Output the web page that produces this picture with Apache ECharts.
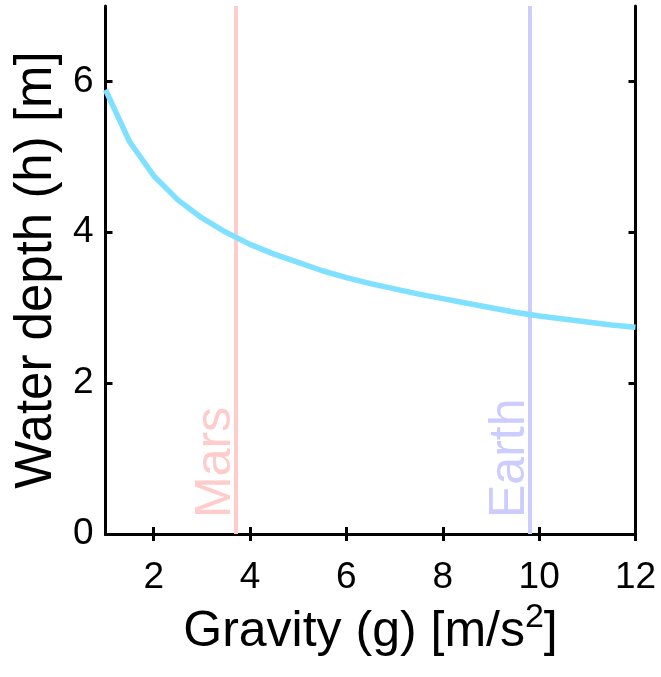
<!DOCTYPE html>
<html>
<head>
<meta charset="utf-8">
<script src="https://cdn.jsdelivr.net/npm/echarts@6/dist/echarts.min.js"></script>
<style>
html,body{margin:0;padding:0;background:#fff;}
#chart{width:661px;height:677px;}
</style>
</head>
<body>
<div id="chart"></div>
<script>
// Data
var gravity = [1, 1.5, 2, 2.5, 3, 3.5, 4, 4.5, 5, 5.5, 6, 6.5, 7, 7.5, 8, 8.5, 9, 9.5, 10, 10.5, 11, 11.5, 12];
var depth   = [5.89, 5.20, 4.75, 4.43, 4.19, 4.00, 3.84, 3.71, 3.60, 3.49, 3.40, 3.32, 3.25, 3.18, 3.12, 3.06, 3.00, 2.94, 2.89, 2.85, 2.81, 2.77, 2.74];
var planetNames = ['Mars', 'Earth'];
var planetGravity = [3.71, 9.81];
var xTicks = [2, 4, 6, 8, 10, 12];
var yTicks = [0, 2, 4, 6];
var xRange = [1, 12];
var yRange = [0, 7];

var planetColors = ['#ffcccc', '#ccccff'];
var FONT = '"Liberation Sans", Arial, Helvetica, sans-serif';

var curve = gravity.map(function (g, i) { return [g, depth[i]]; });

var chart = echarts.init(document.getElementById('chart'), null, {renderer: 'canvas'});

function tickStyle(vals) {
  return {show: true, inside: true, length: 7, customValues: vals, lineStyle: {color: '#000', width: 3}};
}
var axisLineStyle = {show: true, lineStyle: {color: '#000', width: 3}};

var option = {
  animation: false,
  backgroundColor: '#fff',
  grid: {left: 105.5, right: 25.5, top: 6, bottom: 143, containLabel: false, outerBoundsMode: 'none'},
  xAxis: [
    {
      type: 'value', position: 'bottom', min: xRange[0], max: xRange[1],
      axisLine: axisLineStyle, splitLine: {show: false},
      axisTick: tickStyle(xTicks),
      axisLabel: {show: true, customValues: xTicks, color: '#000', fontSize: 37, fontFamily: FONT, margin: 25},
      name: 'Gravity (g) [m/s{sup|2}]',
      nameLocation: 'middle', nameGap: 64,
      nameTextStyle: {color: '#000', fontSize: 50, fontFamily: FONT,
        rich: {sup: {fontSize: 34, fontFamily: FONT, color: '#000', verticalAlign: 'top', padding: [0, 0, 28, 0]}}}
    },
    {
      type: 'value', position: 'top', min: xRange[0], max: xRange[1],
      axisLine: axisLineStyle, splitLine: {show: false},
      axisTick: tickStyle(xTicks),
      axisLabel: {show: false}
    }
  ],
  yAxis: [
    {
      type: 'value', position: 'left', min: yRange[0], max: yRange[1],
      axisLine: axisLineStyle, splitLine: {show: false},
      axisTick: tickStyle(yTicks),
      axisLabel: {show: true, customValues: yTicks, color: '#000', fontSize: 37, fontFamily: FONT, margin: 12},
      name: 'Water depth (h) [m]',
      nameLocation: 'middle', nameGap: 36,
      nameTextStyle: {color: '#000', fontSize: 51, fontFamily: FONT}
    },
    {
      type: 'value', position: 'right', min: yRange[0], max: yRange[1],
      axisLine: axisLineStyle, splitLine: {show: false},
      axisTick: tickStyle(yTicks),
      axisLabel: {show: false}
    }
  ],
  series: [
    {
      type: 'line',
      xAxisIndex: 0, yAxisIndex: 0,
      data: curve,
      showSymbol: false,
      smooth: false,
      lineStyle: {color: '#80e0ff', width: 5.5},
      z: 3,
      markLine: {
        silent: true,
        symbol: ['none', 'none'],
        animation: false,
        data: planetGravity.map(function (g, i) {
          return [
            {coord: [g, yRange[0]], lineStyle: {color: planetColors[i], width: 4, type: 'solid'},
             label: {show: true, formatter: planetNames[i], position: 'insideStartTop',
                     color: planetColors[i], fontSize: 50, fontFamily: FONT, distance: [16, -5]}},
            {coord: [g, yRange[1]]}
          ];
        }),
        z: 2
      }
    }
  ]
};
chart.setOption(option);
</script>
</body>
</html>
